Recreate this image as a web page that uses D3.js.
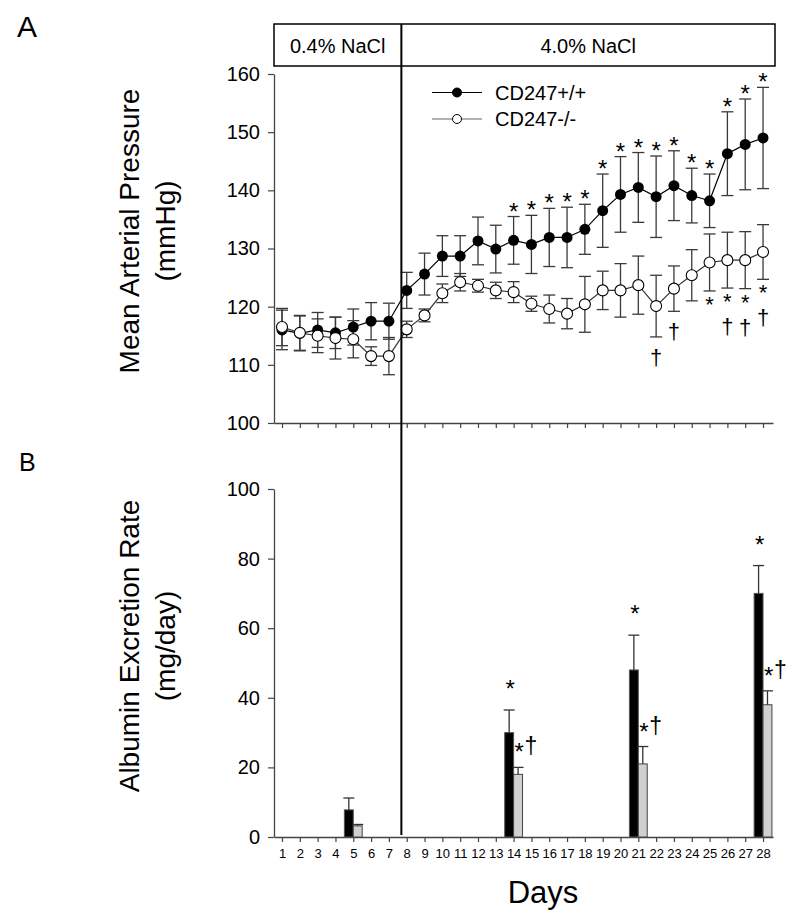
<!DOCTYPE html>
<html><head><meta charset="utf-8">
<script src="https://cdn.jsdelivr.net/npm/d3@7"></script>
<style>
html,body{margin:0;padding:0;background:#fff;}
svg text{font-family:"Liberation Sans",Arial,sans-serif;fill:#000;}
</style></head>
<body>
<svg id="chart" width="800" height="922"></svg>
<script>
// ---------- DATA ----------
const days = d3.range(1, 29);
const wtMean = [116.0,115.4,116.0,115.5,116.5,117.5,117.5,122.8,125.6,128.7,128.7,131.3,129.9,131.4,130.7,131.9,131.9,133.3,136.5,139.3,140.5,138.9,140.8,139.1,138.2,146.3,147.9,149.0];
const wtSem  = [3.4,3.0,3.0,2.7,3.1,3.2,3.1,3.1,3.6,3.5,3.5,4.1,4.1,4.1,5.0,5.0,5.2,4.3,6.3,6.5,6.0,7.0,6.0,4.7,4.6,7.2,7.8,8.7];
const koMean = [116.5,115.5,115.0,114.6,114.4,111.5,111.5,116.1,118.5,122.3,124.2,123.6,122.8,122.5,120.5,119.6,118.8,120.4,122.8,122.8,123.7,120.1,123.1,125.4,127.6,128.0,128.0,129.4];
const koSem  = [3.2,3.0,2.9,3.6,3.2,1.6,3.2,1.4,1.1,1.6,1.5,1.1,1.4,1.8,1.3,2.4,2.6,4.8,3.3,4.6,5.0,5.3,3.9,4.4,4.9,4.8,4.9,4.7];
const wtStarDays = [14,15,16,17,18,19,20,21,22,23,24,25,26,27,28];
const koStarDays = [25,26,27,28];
const koDaggerDays = [22,23,26,27,28];

const barDays = [5,14,21,28];
const albWt = [7.8,30.0,48.0,70.0];
const albWtSem = [3.4,6.5,10.0,8.0];
const albKo = [3.2,18.0,21.0,38.0];
const albKoSem = [0.4,2.0,5.0,4.0];
const albWtStar = [14,21,28];
const albKoStarDagger = [14,21,28];

const mapTicks = [100,110,120,130,140,150,160];
const albTicks = [0,20,40,60,80,100];
const saltSwitchDay = 7.7;
const dietLabels = ["0.4% NaCl","4.0% NaCl"];
const seriesNames = ["CD247+/+","CD247-/-"];

// ---------- LAYOUT ----------
const svg = d3.select("#chart");
const F = '"Liberation Sans",Arial,sans-serif';
const x = d3.scaleLinear().domain([0.55, 28.56]).range([274, 773]);
const yA = d3.scaleLinear().domain([100,160]).range([423, 74]);
const yB = d3.scaleLinear().domain([0,100]).range([837, 489]);
const axisCol = "#444";

function styleAxis(g, fs){
  g.select(".domain").attr("stroke", axisCol).attr("stroke-width",1.3);
  g.selectAll(".tick line").attr("stroke", axisCol).attr("stroke-width",1.2);
  g.selectAll(".tick text").attr("fill","#000").style("font-family",F).style("font-size",fs+"px");
}

// Panel labels
svg.append("text").attr("x",17).attr("y",37).style("font-size","30px").text("A");
svg.append("text").attr("x",19).attr("y",471).style("font-size","25px").text("B");

// Header box
const boxR = 775;
svg.append("rect").attr("x",x.range()[0]).attr("y",24).attr("width",boxR-x.range()[0]).attr("height",42)
  .attr("fill","none").attr("stroke","#000").attr("stroke-width",1.5);
svg.append("text").attr("x",(x.range()[0]+x(saltSwitchDay))/2).attr("y",53).attr("text-anchor","middle")
  .style("font-size","20px").text(dietLabels[0]);
svg.append("text").attr("x",(x(saltSwitchDay)+boxR)/2).attr("y",53).attr("text-anchor","middle")
  .style("font-size","20px").text(dietLabels[1]);

// ---------- PANEL A ----------
const gAy = svg.append("g").attr("transform",`translate(${x.range()[0]},0)`)
  .call(d3.axisLeft(yA).tickValues(mapTicks).tickSize(6).tickSizeOuter(0).tickPadding(8));
styleAxis(gAy, 20);
const gAx = svg.append("g").attr("transform",`translate(0,${yA.range()[0]})`)
  .call(d3.axisBottom(x).tickValues(days).tickSize(5).tickSizeOuter(0).tickFormat(""));
styleAxis(gAx, 12);

svg.append("text").attr("transform",`translate(139,231) rotate(-90)`)
  .attr("text-anchor","middle").style("font-size","28px").text("Mean Arterial Pressure");
svg.append("text").attr("transform",`translate(175,231) rotate(-90)`)
  .attr("text-anchor","middle").style("font-size","28px").text("(mmHg)");

const wt = days.map((d,i)=>({d, m:wtMean[i], s:wtSem[i]}));
const ko = days.map((d,i)=>({d, m:koMean[i], s:koSem[i]}));
const cap = 6;
function errBars(data, col){
  const g = svg.append("g").attr("stroke",col).attr("stroke-width",1.3);
  data.forEach(p=>{
    const xx = x(p.d), t = yA(p.m+p.s), b = yA(p.m-p.s);
    g.append("line").attr("x1",xx).attr("x2",xx).attr("y1",t).attr("y2",b);
    g.append("line").attr("x1",xx-cap).attr("x2",xx+cap).attr("y1",t).attr("y2",t);
    g.append("line").attr("x1",xx-cap).attr("x2",xx+cap).attr("y1",b).attr("y2",b);
  });
}
errBars(wt, "#3a3a3a");
errBars(ko, "#3a3a3a");
const line = d3.line().x(p=>x(p.d)).y(p=>yA(p.m));
svg.append("path").datum(wt).attr("d",line).attr("fill","none").attr("stroke","#000").attr("stroke-width",1.2);
svg.append("path").datum(ko).attr("d",line).attr("fill","none").attr("stroke","#333").attr("stroke-width",1.2);
svg.append("g").selectAll("circle").data(wt).join("circle")
  .attr("cx",p=>x(p.d)).attr("cy",p=>yA(p.m)).attr("r",5.5).attr("fill","#000");
svg.append("g").selectAll("circle").data(ko).join("circle")
  .attr("cx",p=>x(p.d)).attr("cy",p=>yA(p.m)).attr("r",5.5).attr("fill","#fff").attr("stroke","#000").attr("stroke-width",1.1);

// significance markers panel A
wtStarDays.forEach(d=>{
  const p = wt[d-1];
  svg.append("text").attr("x",x(p.d)).attr("y",yA(p.m+p.s)+3).attr("text-anchor","middle")
    .style("font-size","24px").text("*");
});
// open-series markers below the error bars
koStarDays.forEach(d=>{
  const p = ko[d-1];
  svg.append("text").attr("x",x(p.d)).attr("y",yA(p.m-p.s)+21).attr("text-anchor","middle")
    .style("font-size","22px").text("*");
});
koDaggerDays.forEach(d=>{
  const p = ko[d-1];
  const off = koStarDays.includes(d) ? 46 : 28;
  svg.append("text").attr("x",x(p.d)).attr("y",yA(p.m-p.s)+off).attr("text-anchor","middle")
    .style("font-size","22px").text("†");
});

// legend
const lg = [{y:92.5, fill:"#000", stroke:"#000", lc:"#000"},{y:119, fill:"#fff", stroke:"#000", lc:"#666"}];
lg.forEach((l,i)=>{
  svg.append("line").attr("x1",432).attr("x2",482).attr("y1",l.y).attr("y2",l.y).attr("stroke",l.lc).attr("stroke-width",1.2);
  svg.append("circle").attr("cx",457).attr("cy",l.y).attr("r",4.5).attr("fill",l.fill).attr("stroke",l.stroke);
  svg.append("text").attr("x",495).attr("y",l.y+7).style("font-size","20px").text(seriesNames[i]);
});

// ---------- PANEL B ----------
const gBy = svg.append("g").attr("transform",`translate(${x.range()[0]},0)`)
  .call(d3.axisLeft(yB).tickValues(albTicks).tickSize(6).tickSizeOuter(0).tickPadding(8));
styleAxis(gBy, 20);
const gBx = svg.append("g").attr("transform",`translate(0,${yB.range()[0]})`)
  .call(d3.axisBottom(x).tickValues(days).tickSize(5).tickSizeOuter(0).tickPadding(6));
styleAxis(gBx, 13);
gBx.selectAll(".tick text").attr("dy","0.75em");

svg.append("text").attr("transform",`translate(139,646) rotate(-90)`)
  .attr("text-anchor","middle").style("font-size","28px").text("Albumin Excretion Rate");
svg.append("text").attr("transform",`translate(175,646) rotate(-90)`)
  .attr("text-anchor","middle").style("font-size","28px").text("(mg/day)");
svg.append("text").attr("x",543).attr("y",903).attr("text-anchor","middle").style("font-size","31px").text("Days");

const bw = x(2)-x(1);
const barW = bw*0.5;
const bars = svg.append("g");
barDays.forEach((d,i)=>{
  const xc = x(d);
  bars.append("rect").attr("x",xc-barW).attr("y",yB(albWt[i])).attr("width",barW).attr("height",yB(0)-yB(albWt[i]))
    .attr("fill","#000").attr("stroke","#555").attr("stroke-width",1);
  bars.append("rect").attr("x",xc).attr("y",yB(albKo[i])).attr("width",barW).attr("height",yB(0)-yB(albKo[i]))
    .attr("fill","#d0d0d0").attr("stroke","#444").attr("stroke-width",1);
  [[xc-barW/2, albWt[i], albWtSem[i]],[xc+barW/2, albKo[i], albKoSem[i]]].forEach(([cx,v,s])=>{
    bars.append("line").attr("x1",cx).attr("x2",cx).attr("y1",yB(v)).attr("y2",yB(v+s)).attr("stroke","#333").attr("stroke-width",1.3);
    bars.append("line").attr("x1",cx-5.5).attr("x2",cx+5.5).attr("y1",yB(v+s)).attr("y2",yB(v+s)).attr("stroke","#333").attr("stroke-width",1.3);
  });
});
albWtStar.forEach(d=>{
  const i = barDays.indexOf(d);
  svg.append("text").attr("x",x(d)-barW/2+1).attr("y",yB(albWt[i]+albWtSem[i])-13).attr("text-anchor","middle")
    .style("font-size","24px").text("*");
});
albKoStarDagger.forEach(d=>{
  const i = barDays.indexOf(d);
  const yy = yB(albKo[i]+albKoSem[i]);
  const t = svg.append("text");
  t.append("tspan").attr("x",x(d)+1).attr("y",yy-7).style("font-size","24px").text("*");
  t.append("tspan").attr("x",x(d)+11).attr("y",yy-13).style("font-size","23px").text("†");
});

// salt switch line
svg.append("line").attr("x1",x(saltSwitchDay)).attr("x2",x(saltSwitchDay)).attr("y1",24).attr("y2",835)
  .attr("stroke","#000").attr("stroke-width",2);
</script>
</body></html>
